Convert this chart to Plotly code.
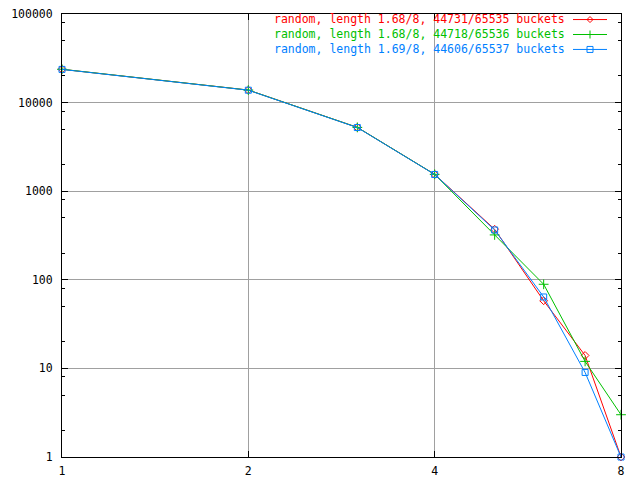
import plotly.graph_objects as go

# ---- data ----
chain_lengths = [1, 2, 3, 4, 5, 6, 7, 8]
red_counts = [23750, 13850, 5250, 1550, 372, 58, 14, 1]
green_counts = [23800, 13850, 5250, 1550, 321, 89, 12, 3]
blue_counts = [23700, 13800, 5230, 1545, 365, 64, 9, 1]

series_names = [
    "random, length 1.68/8, 44731/65535 buckets",
    "random, length 1.68/8, 44718/65536 buckets",
    "random, length 1.69/8, 44606/65537 buckets",
]
series_values = [red_counts, green_counts, blue_counts]

x_tick_vals = [1, 2, 4, 8]
x_tick_text = ["1", "2", "4", "8"]
y_tick_vals = [1, 10, 100, 1000, 10000, 100000]
y_tick_text = ["1", "10", "100", "1000", "10000", "100000"]
y_minor_vals = [m * 10 ** k for k in range(5) for m in (2, 5, 8)]

# ---- styles ----
colors = ["#ff0000", "#00c000", "#0080ff"]
symbols = ["diamond-open", "cross-thin-open", "square-open"]
marker_sizes = [6, 7, 6]
FONT = "DejaVu Sans Mono"
LEG_SIZE = 11.5

fig = go.Figure()
for name, vals, col, sym, ms in zip(series_names, series_values, colors, symbols, marker_sizes):
    fig.add_trace(go.Scatter(
        x=chain_lengths, y=vals, mode="lines+markers", name=name,
        line=dict(color=col, width=1),
        marker=dict(symbol=sym, size=ms, color=col, line=dict(color=col, width=1)),
        showlegend=False, cliponaxis=False,
    ))

# ---- plot area geometry (pixels) ----
W, H = 640, 480
L, R, T, B = 62, 19, 14, 23
pw, ph = W - L - R, H - T - B

def px2paper_x(px):
    return (px - L) / pw

def px2paper_y(py):
    return (H - B - py) / ph

# ---- legend drawn at top right like gnuplot (text left of sample) ----
line_gap = LEG_SIZE * 1.3
mid_row = 34.5
row_y = [mid_row - line_gap, mid_row, mid_row + line_gap]
legend_text = "<br>".join(
    f'<span style="color:{c}">{n}</span>' for n, c in zip(series_names, colors)
)
annotations = [dict(
    x=px2paper_x(566), y=px2paper_y(mid_row), xref="paper", yref="paper",
    xanchor="right", yanchor="middle", align="right", text=legend_text,
    showarrow=False, borderpad=0,
    font=dict(family=FONT, size=LEG_SIZE, color=colors[0]),
)]
shapes = []
for i, col in enumerate(colors):
    yy = px2paper_y(row_y[i])
    shapes.append(dict(type="line", xref="paper", yref="paper",
                       x0=px2paper_x(573), x1=px2paper_x(607), y0=yy, y1=yy,
                       line=dict(color=col, width=1)))
cx = px2paper_x(590)
marker_paths = [
    "M -3 0 L 0 3 L 3 0 L 0 -3 Z",
    "M -4 0 L 4 0 M 0 -4 L 0 4",
    "M -3 -3 L 3 -3 L 3 3 L -3 3 Z",
]
for i, (col, p) in enumerate(zip(colors, marker_paths)):
    shapes.append(dict(type="path", xref="paper", yref="paper",
                       xsizemode="pixel", ysizemode="pixel",
                       xanchor=cx, yanchor=px2paper_y(row_y[i]), path=p,
                       line=dict(color=col, width=1)))

axis_common = dict(
    showline=True, linecolor="black", linewidth=1, mirror="ticks",
    ticks="inside", ticklen=6, tickcolor="black", tickwidth=1,
    showgrid=True, gridcolor="#a0a0a0", gridwidth=1,
    zeroline=False, automargin=False,
    tickfont=dict(family=FONT, size=11.5, color="black"),
)

fig.update_layout(
    width=W, height=H,
    margin=dict(l=L, r=R, t=T, b=B, pad=0),
    paper_bgcolor="white", plot_bgcolor="white",
    xaxis=dict(type="log", range=[0, 0.90309], tickmode="array",
               tickvals=x_tick_vals, ticktext=x_tick_text,
               ticklabelstandoff=3, **axis_common),
    yaxis=dict(type="log", range=[0, 5], tickmode="array",
               tickvals=y_tick_vals, ticktext=y_tick_text,
               ticklabelstandoff=6,
               minor=dict(tickmode="array", tickvals=y_minor_vals, ticks="inside",
                          ticklen=3, tickcolor="black", showgrid=False),
               **axis_common),
    shapes=shapes,
    annotations=annotations,
    showlegend=False,
)

fig.write_html("out.html", config={"displayModeBar": False},
               post_script="document.body.style.margin='0';")
